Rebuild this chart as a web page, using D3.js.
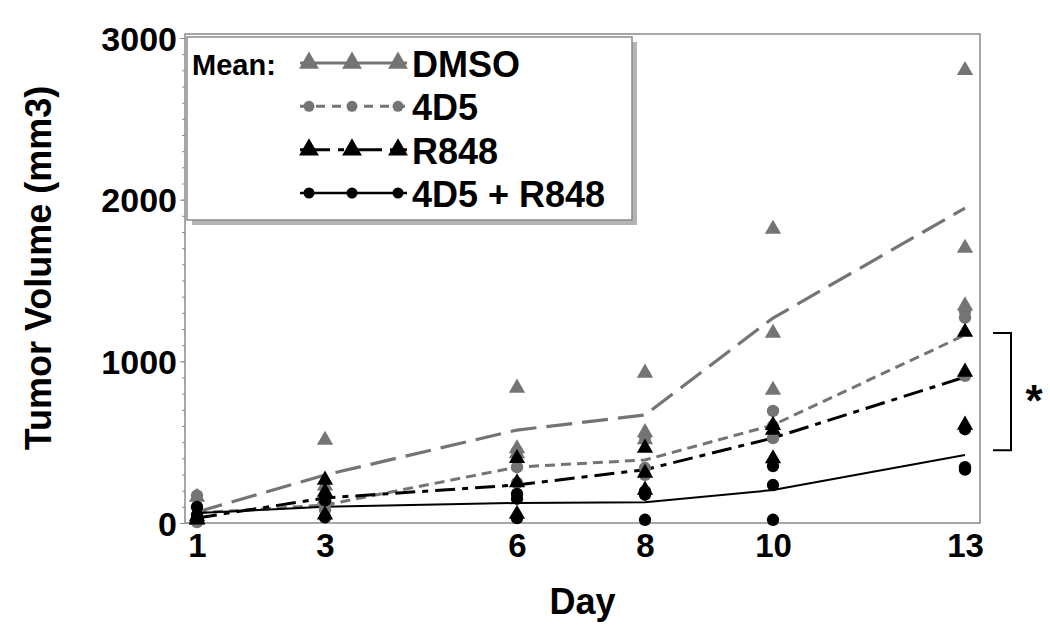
<!DOCTYPE html>
<html>
<head>
<meta charset="utf-8">
<script src="https://cdn.jsdelivr.net/npm/d3@7"></script>
<style>
  html, body { margin: 0; padding: 0; background: #fff; }
  svg { display: block; }
  text { font-family: "Liberation Sans", Arial, sans-serif; font-weight: bold; fill: #000; }
</style>
</head>
<body>
<svg id="chart" width="1050" height="640"></svg>
<script>
// ---- data ----
const days = [1, 3, 6, 8, 10, 13];
const dayLabels = ["1", "3", "6", "8", "10", "13"];
const yTickValues = [0, 1000, 2000, 3000];
const seriesNames = ["DMSO", "4D5", "R848", "4D5 + R848"];

const dmsoMean  = [68, 297, 575, 668, 1268, 1948];
const ab4d5Mean = [62, 111, 346, 390, 606, 1163];
const r848Mean  = [31, 155, 235, 330, 526, 903];
const comboMean = [62, 100, 124, 128, 204, 420];

const dmsoPts  = [[160, 25, 20], [513, 230, 148], [835, 460, 430], [928, 560, 516], [1818, 1175, 822], [2800, 1700, 1344]];
const ab4d5Pts = [[170, 10, 6], [142, 110, 80], [445, 345, 248], [532, 340, 298], [693, 600, 525], [1310, 1270, 910]];
const r848Pts  = [[40, 25, 20], [266, 192, 50], [400, 250, 55], [464, 309, 204], [605, 575, 398], [1181, 934, 606]];
const comboPts = [[100, 50, 30], [160, 140, 35], [180, 150, 30], [195, 175, 20], [352, 235, 20], [580, 345, 330]];

const bracketRange = [450, 1175];

// ---- layout ----
const svg = d3.select("#chart");
const frame = { left: 185, right: 980, top: 34, bottom: 523 };
const x = d3.scaleLinear().domain([1, 13]).range([197, 965]);
const y = d3.scaleLinear().domain([0, 3000]).range([523, 38]);

const GRAY = "#747474";
const series = [
  { name: seriesNames[0], mean: dmsoMean,  pts: dmsoPts,  color: GRAY,   shape: d3.symbolTriangle, dash: "26,10", width: 3.2 },
  { name: seriesNames[1], mean: ab4d5Mean, pts: ab4d5Pts, color: GRAY,   shape: d3.symbolCircle,   dash: "10,6",  width: 3 },
  { name: seriesNames[2], mean: r848Mean,  pts: r848Pts,  color: "#000", shape: d3.symbolTriangle, dash: "20,7,6,7", width: 3 },
  { name: seriesNames[3], mean: comboMean, pts: comboPts, color: "#000", shape: d3.symbolCircle,   dash: null,    width: 2 }
];

// plot frame
svg.append("rect")
  .attr("x", frame.left).attr("y", frame.top)
  .attr("width", frame.right - frame.left).attr("height", frame.bottom - frame.top)
  .attr("fill", "#fff").attr("stroke", "#8a8a8a").attr("stroke-width", 1.5);

// y axis minor ticks
const minor = d3.range(0, 3001, 100);
const yAxisMinor = d3.axisLeft(y).tickValues(minor).tickSize(3).tickFormat("");
const gMinor = svg.append("g").attr("transform", `translate(${frame.left},0)`).call(yAxisMinor);
gMinor.select(".domain").remove();
gMinor.selectAll("line").attr("stroke", "#8a8a8a").attr("stroke-width", 1);

// y axis major labels
const yAxis = d3.axisLeft(y).tickValues(yTickValues).tickSize(5).tickPadding(3).tickFormat(d3.format("d"));
const gY = svg.append("g").attr("transform", `translate(${frame.left},0)`).call(yAxis);
gY.select(".domain").remove();
gY.selectAll("line").attr("stroke", "#8a8a8a");
gY.selectAll("text")
  .attr("font-size", 34).attr("font-family", "Liberation Sans, Arial, sans-serif")
  .attr("font-weight", "bold").attr("fill", "#000").attr("dy", "0.36em");

// x axis labels
const xAxis = d3.axisBottom(x).tickValues(days).tickSize(0).tickPadding(10)
  .tickFormat((d, i) => dayLabels[i]);
const gX = svg.append("g").attr("transform", `translate(0,${frame.bottom})`).call(xAxis);
gX.select(".domain").remove();
gX.selectAll("text")
  .attr("font-size", 33).attr("font-family", "Liberation Sans, Arial, sans-serif")
  .attr("font-weight", "bold").attr("fill", "#000").attr("dy", "0.72em");

// axis titles
svg.append("text").attr("x", (frame.left + frame.right) / 2).attr("y", 614)
  .attr("text-anchor", "middle").attr("font-size", 36).text("Day");
svg.append("text").attr("transform", `translate(51,268) rotate(-90)`)
  .attr("text-anchor", "middle").attr("font-size", 36).text("Tumor Volume (mm3)");

// mean lines
const line = d3.line().x((d, i) => x(days[i])).y(d => y(d));
series.forEach(s => {
  svg.append("path").datum(s.mean)
    .attr("d", line).attr("fill", "none")
    .attr("stroke", s.color).attr("stroke-width", s.width)
    .attr("stroke-dasharray", s.dash);
});

// individual points
series.forEach((s, si) => {
  const flat = [];
  s.pts.forEach((arr, i) => arr.forEach(v => flat.push({ day: days[i], v })));
  const size = s.shape === d3.symbolTriangle ? 115 : 120;
  svg.append("g").selectAll("path").data(flat).join("path")
    .attr("d", d3.symbol().type(s.shape).size(size))
    .attr("transform", d => `translate(${x(d.day)},${y(d.v)})`)
    .attr("fill", s.color);
});

// legend
const lg = svg.append("g");
const lb = { x: 187, y: 37, w: 445, h: 183 };
lg.append("rect").attr("x", lb.x + 5).attr("y", lb.y + 5).attr("width", lb.w).attr("height", lb.h)
  .attr("fill", "#b4b4b4");
lg.append("rect").attr("x", lb.x).attr("y", lb.y).attr("width", lb.w).attr("height", lb.h)
  .attr("fill", "#fff").attr("stroke", "#8a8a8a").attr("stroke-width", 1.5);
lg.append("text").attr("x", 192).attr("y", 75).attr("font-size", 29).text("Mean:");

const legRow = d3.scaleLinear().domain([0, 3]).range([77, 207]);
const legMarkX = [309, 352, 398];
series.forEach((s, i) => {
  const base = legRow(i);
  const cy = base - 14;
  const dash = i === 0 ? null : (i === 2 ? "30,8,6,8" : s.dash);
  lg.append("line").attr("x1", 300).attr("x2", 407).attr("y1", cy).attr("y2", cy)
    .attr("stroke", s.color).attr("stroke-width", i === 3 ? 2.5 : 3)
    .attr("stroke-dasharray", i === 1 ? "9,7" : dash);
  const size = s.shape === d3.symbolTriangle ? 170 : 95;
  legMarkX.forEach(mx => {
    lg.append("path").attr("d", d3.symbol().type(s.shape).size(size))
      .attr("transform", `translate(${mx},${cy})`).attr("fill", s.color);
  });
  lg.append("text").attr("x", 412).attr("y", base).attr("font-size", 36).text(s.name);
});

// significance bracket
const bx = frame.right + 31;
svg.append("path")
  .attr("d", `M${bx - 18},${y(bracketRange[1])} H${bx} V${y(bracketRange[0])} H${bx - 18}`)
  .attr("fill", "none").attr("stroke", "#000").attr("stroke-width", 2);
svg.append("text").attr("x", bx + 23).attr("y", (y(bracketRange[0]) + y(bracketRange[1])) / 2 + 24)
  .attr("text-anchor", "middle").attr("font-size", 44).text("*");
</script>
</body>
</html>
